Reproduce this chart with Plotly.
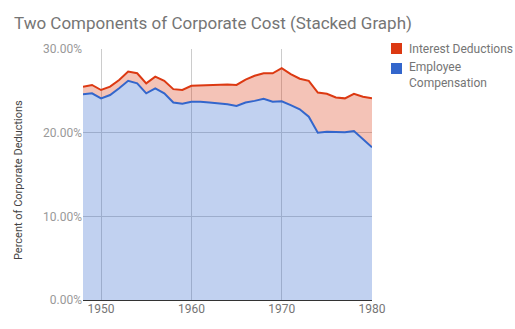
import plotly.graph_objects as go

years = list(range(1948, 1981))
total_pct = [25.5, 25.7, 25.1, 25.5, 26.3, 27.3, 27.1, 25.9, 26.7, 26.2, 25.2, 25.1,
             25.6, 25.65, 25.65, 25.7, 25.75, 25.7, 26.35, 26.8, 27.1, 27.1, 27.7,
             27.0, 26.45, 26.2, 24.8, 24.65, 24.2, 24.1, 24.65, 24.3, 24.1]
employee_pct = [24.6, 24.7, 24.1, 24.5, 25.3, 26.2, 25.9, 24.7, 25.3, 24.7, 23.6, 23.45,
                23.7, 23.7, 23.6, 23.5, 23.4, 23.2, 23.6, 23.8, 24.05, 23.7, 23.75,
                23.3, 22.8, 21.9, 20.0, 20.1, 20.1, 20.05, 20.2, 19.2, 18.25]
interest_pct = [round(t - e, 3) for t, e in zip(total_pct, employee_pct)]

employee = [v / 100 for v in employee_pct]
interest = [v / 100 for v in interest_pct]

RED = "#dc3912"
BLUE = "#3366cc"

fig = go.Figure()
fig.add_trace(go.Scatter(x=years, y=employee, name="Employee Compensation",
                         stackgroup="one", mode="lines",
                         line=dict(color=BLUE, width=2),
                         fillcolor="rgba(51,102,204,0.3)"))
fig.add_trace(go.Scatter(x=years, y=interest, name="Interest Deductions",
                         stackgroup="one", mode="lines",
                         line=dict(color=RED, width=2),
                         fillcolor="rgba(220,57,18,0.3)"))

L, R, T, B = 83, 372, 49, 300
def px(x):
    return (x - L) / (R - L)
def py(y):
    return (B - y) / (B - T)

shapes = [
    dict(type="rect", xref="paper", yref="paper", x0=px(391), x1=px(402),
         y0=py(54), y1=py(43), fillcolor=RED, line=dict(width=0)),
    dict(type="rect", xref="paper", yref="paper", x0=px(391), x1=px(402),
         y0=py(74), y1=py(63), fillcolor=BLUE, line=dict(width=0)),
]
legend_font = dict(size=12, color="#757575")
annotations = [
    dict(text="Percent of Corporate Deductions", textangle=-90,
         x=px(18), y=py(180), xref="paper", yref="paper",
         xanchor="center", yanchor="middle", showarrow=False,
         font=dict(size=11, color="#444444")),
    dict(text="Interest Deductions", x=px(408), y=py(49), xref="paper", yref="paper",
         xanchor="left", yanchor="middle", showarrow=False, font=legend_font,
         borderpad=0),
    dict(text="Employee<br>Compensation", x=px(408), y=py(75), xref="paper",
         yref="paper", xanchor="left", yanchor="middle", showarrow=False,
         align="left", font=legend_font, borderpad=0),
]

fig.update_layout(
    width=515, height=329,
    margin=dict(l=L, r=515 - R, t=T, b=329 - B, autoexpand=False),
    paper_bgcolor="white", plot_bgcolor="white",
    font=dict(family="Roboto", size=11, color="#757575"),
    title=dict(text="Two Components of Corporate Cost (Stacked Graph)",
               x=14 / 515, xanchor="left", y=1 - 23 / 329, yanchor="middle",
               font=dict(family="Roboto", size=17, color="#757575")),
    showlegend=False,
    xaxis=dict(range=[1948, 1980], tickvals=[1950, 1960, 1970, 1980],
               showgrid=True, gridcolor="#cccccc", zeroline=False,
               showline=False, ticks="", tickfont=dict(size=12, color="#757575")),
    yaxis=dict(range=[0, 0.3], tickvals=[0, 0.1, 0.2, 0.3], tickformat=".2%",
               showgrid=True, gridcolor="#cccccc", zeroline=True,
               zerolinecolor="#333333", zerolinewidth=1, ticks="",
               tickfont=dict(size=12, color="#999999")),
    shapes=shapes,
    annotations=annotations,
)

fig.write_html("out.html")
